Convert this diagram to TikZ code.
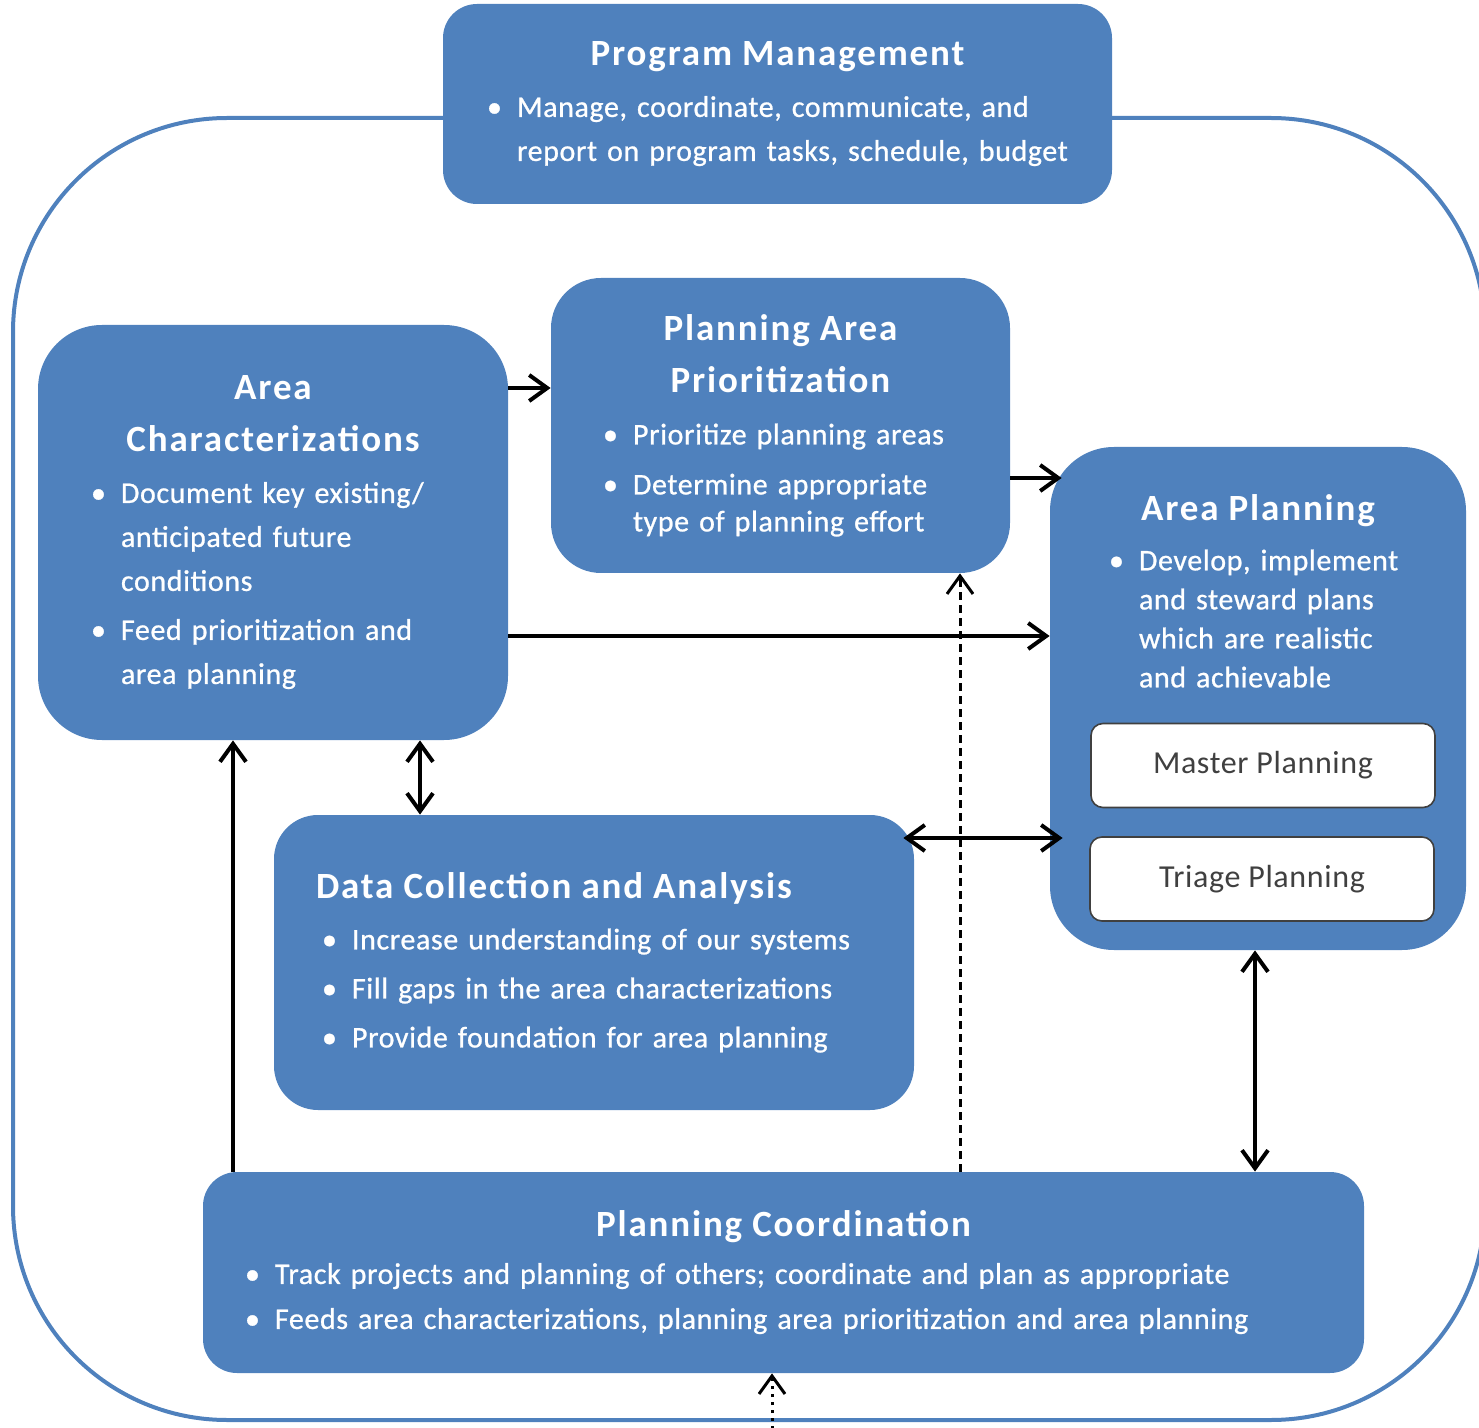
\documentclass[tikz,border=0pt]{standalone}
\usepackage{fontspec}
\setmainfont{Carlito}
\newfontfamily\ttlfont[LetterSpace=5]{Carlito}
\newfontfamily\txtfont[LetterSpace=2,FakeBold=0.8]{Carlito}
\newfontfamily\subfont[LetterSpace=2]{Carlito}
\usetikzlibrary{arrows.meta}

\definecolor{boxblue}{RGB}{79,129,189}
\definecolor{subgray}{RGB}{64,64,64}
\setlength\parindent{0pt}

\newlength\bulind
\setlength\bulind{15pt}
\newcommand\boxtitle[1]{{\setlength\parskip{0pt}\centering\ttlfont\bfseries\fontsize{18.5}{26}\selectfont #1\par}\vspace{1pt}}
\newcommand\bitem[1]{{\hangindent=\bulind\hangafter=1\noindent\makebox[\bulind][l]{\textbullet}#1\par}}

\begin{document}
\begin{tikzpicture}[x=0.5pt, y=-0.5pt,
  blbox/.style={fill=boxblue, text=white, inner sep=0pt, align=left,
    font={\txtfont\fontsize{15}{22}\selectfont\setlength\parskip{2.5pt}}},
  subbox/.style={draw=subgray, line width=0.8pt, fill=white, rounded corners=6pt,
    text=subgray, font={\subfont\fontsize{16}{19}\selectfont}, minimum width=172pt, minimum height=42pt},
  frame/.style={draw=boxblue, line width=2pt, rounded corners=107pt},
  arr/.style={line width=2pt, ->},
  darr/.style={line width=2pt, <->},
  >={Straight Barb[length=9pt,width=13pt]}]

  \clip (0,0) rectangle (1479,1428);

  % outer loop
  \draw[frame] (13,118) rectangle (1485,1420);

  \node[blbox, rounded corners=17pt, minimum width=334.5pt, minimum height=100pt, text width=290.5pt]
  (pm) at (777.5,104) {\boxtitle{Program Management}%
    \bitem{Manage, coordinate, communicate, and\newline report on program tasks, schedule, budget}};

  \node[blbox, rounded corners=32pt, minimum width=235pt, minimum height=207.5pt, text width=182pt]
  (ac) at (273,532.5) {\boxtitle{Area\\ Characterizations}%
    \bitem{Document key existing/\newline anticipated future\newline conditions}%
    \bitem{Feed prioritization and\newline area planning}};

  \node[blbox, rounded corners=25pt, minimum width=229.5pt, minimum height=147.5pt, text width=177.5pt,
    font={\txtfont\fontsize{15}{18.5}\selectfont\setlength\parskip{6.5pt}}]
  (pap) at (780.5,425.5) {\boxtitle{Planning Area\\ Prioritization}%
    \bitem{Prioritize planning areas}%
    \bitem{Determine appropriate\newline type of planning effort}};

  \node[blbox, rounded corners=32pt, minimum width=208pt, minimum height=251.5pt] (ap) at (1258,698.5) {};
  \node[blbox, fill=none, text width=149pt, anchor=north,
    font={\txtfont\fontsize{15}{19.5}\selectfont\setlength\parskip{4.5pt}}]
  (aptxt) at (1258,494) {\boxtitle{Area Planning}%
    \bitem{Develop, implement\newline and steward plans\newline which are realistic\newline and achievable}};
  \node[subbox] (mp) at (1263,765.5) {Master Planning};
  \node[subbox] (tp) at (1262,879) {Triage Planning};

  \node[blbox, rounded corners=22pt, minimum width=320pt, minimum height=147.5pt, text width=272pt]
  (dca) at (594,962.5) {{\ttlfont\bfseries\fontsize{18.5}{26}\selectfont\hspace*{-3pt}Data Collection and Analysis\par}\vspace{1pt}%
    \bitem{Increase understanding of our systems}%
    \bitem{Fill gaps in the area characterizations}%
    \bitem{Provide foundation for area planning}};

  \node[blbox, rounded corners=17pt, minimum width=580.5pt, minimum height=100.5pt, text width=538.5pt,
    font={\txtfont\fontsize{15}{22}\selectfont\setlength\parskip{0.5pt}}]
  (pc) at (783.5,1272.5) {\boxtitle{Planning Coordination}%
    \bitem{Track projects and planning of others; coordinate and plan as appropriate}%
    \bitem{Feeds area characterizations, planning area prioritization and area planning}};

  \coordinate (ext) at (772,1445);

  % connectors
  \draw[arr] (ac.east |- 0,388) -- (pap.west |- 0,388);
  \draw[arr, shorten >=-6pt] (pap.east |- 0,478) -- (ap.west |- 0,478);
  \draw[arr] (ac.east |- 0,636) -- (ap.west |- 0,636);
  \draw[darr] (ac.south -| 420,0) -- (dca.north -| 420,0);
  \draw[darr, shorten <=-5.5pt, shorten >=-6.5pt] (dca.east |- 0,838) -- (ap.west |- 0,838);
  \draw[arr] (pc.north -| 233,0) -- (ac.south -| 233,0);
  \draw[darr] (ap.south -| 1255,0) -- (pc.north -| 1255,0);
  \draw[line width=1.5pt, dash pattern=on 4pt off 2.5pt, ->] (pc.north -| 960,0) -- (pap.south -| 960,0);
  \draw[line width=1.5pt, dash pattern=on 1.5pt off 2.5pt, ->] (ext) -- (pc.south -| ext);

\end{tikzpicture}
\end{document}
